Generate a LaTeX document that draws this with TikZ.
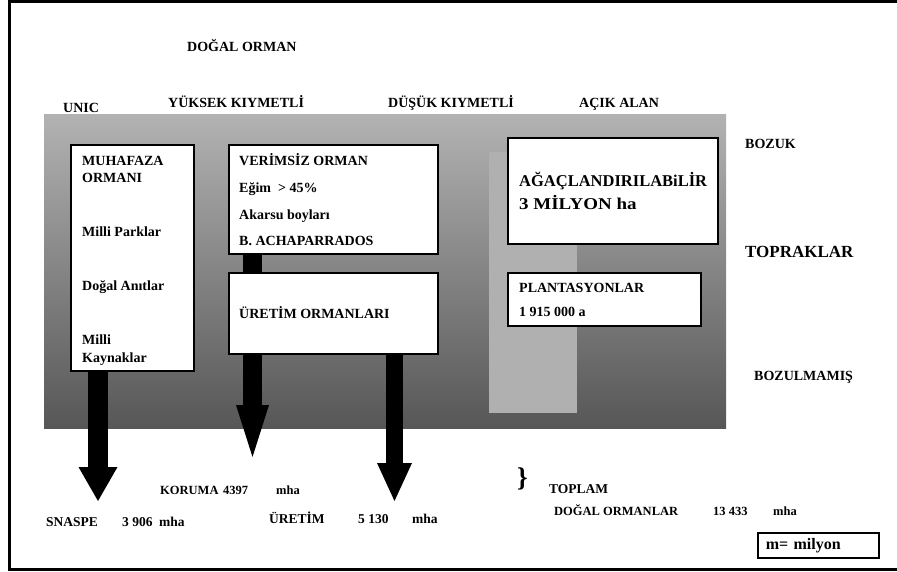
\documentclass[tikz,border=0pt]{standalone}
\usepackage{fontspec}
\setmainfont{Liberation Serif}
\usetikzlibrary{arrows.meta}
\usetikzlibrary{positioning}
\definecolor{bandtop}{gray}{0.70}
\definecolor{bandmid}{gray}{0.55}
\definecolor{bandbot}{gray}{0.34}
\definecolor{stripgray}{gray}{0.69}
\pgfdeclarelayer{bg}
\pgfdeclarelayer{mid}
\pgfsetlayers{bg,mid,main}
\tikzset{x=1pt, y=-1pt,
lbl/.style={ % plain bold labels
anchor=base west, inner sep=0pt,
font=\fontsize{14}{16}\selectfont\bfseries},
biglbl/.style={lbl, font=\fontsize{17}{19}\selectfont\bfseries},
botlbl/.style={lbl, font=\fontsize{12.5}{14}\selectfont\bfseries},
midlbl/.style={lbl, font=\fontsize{13.5}{15}\selectfont\bfseries},
areabox/.style={ % white boxes on the band
draw, fill=white, line width=1.6pt, inner sep=0pt,
anchor=north west},
fatarrow/.style n args={3}{ % thick black block arrows
line width=#1,
-{Triangle[width=#2, length=#3, line width=0pt]}}}

\begin{document}
\begin{tikzpicture}
\useasboundingbox (0,0) rectangle (897,571);
\draw[line width=3pt] (9.5,1.5) rectangle (899,569.5);
% band and open area strip
\begin{pgfonlayer}{bg}
\shade[top color=bandtop, middle color=bandmid, bottom color=bandbot] (44,114) rectangle (726,428);
\fill[stripgray] (489,152) rectangle (577,413);
\end{pgfonlayer}
% boxes
\node[areabox, minimum width=123pt, minimum height=226pt] (muh) at (70,144) {};
\node[areabox, minimum width=209pt, minimum height=109pt] (ver) at (228,144) {};
\node[areabox, minimum width=209pt, minimum height=81pt] (ure) at (228,272) {};
\node[areabox, minimum width=210pt, minimum height=106pt] (aga) at (507,137) {};
\node[areabox, minimum width=193pt, minimum height=53pt] (pla) at (507,272) {};
% arrows
\coordinate (tip1) at (98,501);
\coordinate (tip2) at (252.5,457);
\coordinate (tip3) at (394.5,501);
\begin{pgfonlayer}{mid}
\draw[fatarrow={20pt}{39pt}{34pt}] (muh.south -| tip1) -- (tip1);
\draw[fatarrow={19pt}{33pt}{52pt}] (ver.south -| tip2) -- (tip2);
\draw[fatarrow={17.5pt}{35pt}{38pt}] (ure.south -| tip3) -- (tip3);
\end{pgfonlayer}
% headings
\node[lbl] (dogal) at (187,51) {DOĞAL ORMAN};
\node[lbl] (unic) at (63,112) {UNIC};
\node[lbl] (yuksek) at (168,107) {YÜKSEK KIYMETLİ};
\node[lbl] (dusuk) at (388,107) {DÜŞÜK KIYMETLİ};
\node[lbl] (acik) at (579,107) {AÇIK ALAN};
\node[lbl] (bozuk) at (745,148) {BOZUK};
\node[biglbl] (toprak) at (745,257) {TOPRAKLAR};
\node[lbl] (bozulmamis) at (754,380) {BOZULMAMIŞ};
% box texts
\node[lbl] (muh1) at (82,165) {MUHAFAZA};
\node[lbl] (muh2) at (82,182.5) {ORMANI};
\node[lbl] (muh3) at (82,236) {Milli Parklar};
\node[lbl] (muh4) at (82,290) {Doğal Anıtlar};
\node[lbl] (muh5) at (82,344.5) {Milli};
\node[lbl] (muh6) at (82,362) {Kaynaklar};
\node[lbl] (ver1) at (239,165) {VERİMSİZ ORMAN};
\node[lbl] (ver2) at (239,192) {Eğim~~> 45\%};
\node[lbl] (ver3) at (239,219) {Akarsu boyları};
\node[lbl] (ver4) at (239,245) {B. ACHAPARRADOS};
\node[lbl] (ure1) at (239,318) {ÜRETİM ORMANLARI};
\node[lbl, font=\fontsize{16.5}{18}\selectfont\bfseries] (aga1) at (519,186) {AĞAÇLANDIRILABiLİR};
\node[lbl, font=\fontsize{16.5}{18}\selectfont\bfseries] (aga2) at (519,209.5) {\scalebox{1.15}[1]{3 MİLYON ha}};
\node[lbl] (pla1) at (519,292) {PLANTASYONLAR};
\node[lbl] (pla2) at (519,316) {1 915 000 a};
% totals
\node[midlbl] (snaspe) at (46,526) {\makebox[76pt][l]{SNASPE}\makebox[37pt][l]{3 906}mha};
\node[botlbl] (koruma) at (160,494) {\makebox[63pt][l]{KORUMA}\makebox[53pt][l]{4397}mha};
\node[midlbl] (uretim) at (269,523.5) {\makebox[89pt][l]{ÜRETİM}\makebox[54pt][l]{5 130}mha};
\node[inner sep=0pt, font=\fontsize{27}{27}\selectfont\bfseries] (brace) at (522.5,479) {\}};
\node[midlbl] (toplam) at (549,493.5) {TOPLAM};
\node[botlbl] (dogalorm) at (554,515) {\makebox[159pt][l]{DOĞAL ORMANLAR}\makebox[60pt][l]{13 433}mha};
\node[draw, line width=1.6pt, anchor=north west, minimum height=25pt, text width=105pt, inner xsep=8pt, inner ysep=0pt, font=\fontsize{16}{18}\selectfont\bfseries] (unit) at (757,532) {m= milyon};
\end{tikzpicture}
\end{document}
